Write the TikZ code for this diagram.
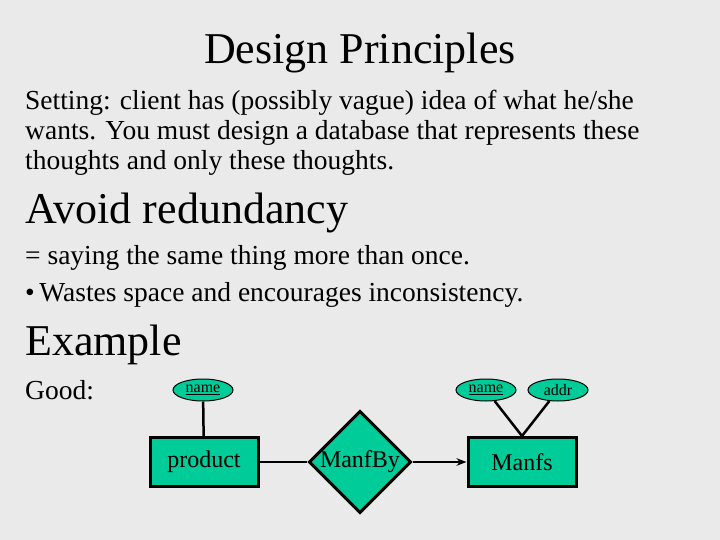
\documentclass[tikz,border=0pt]{standalone}
\usepackage{fontspec}
\setmainfont{Liberation Serif}
\usetikzlibrary{shapes.geometric, arrows.meta, positioning}
\definecolor{slidebg}{RGB}{234, 234, 234}
\definecolor{erfill}{RGB}{0, 204, 153}
\tikzset{
    body/.style={anchor=west, inner sep=0pt, font=\fontsize{27.5}{30}\selectfont},
    heading/.style={anchor=west, inner sep=0pt, font=\fontsize{44}{48}\selectfont},
    entity/.style={rectangle, draw=black, line width=3pt, fill=erfill, minimum width=108pt, minimum height=49pt, font=\fontsize{24}{26}\selectfont},
    relation/.style={diamond, draw=black, line width=3pt, fill=erfill, minimum width=96pt, minimum height=92pt, inner sep=0pt, font=\fontsize{24}{26}\selectfont},
    attrib/.style={ellipse, draw=black, line width=1pt, fill=erfill, minimum width=60pt, minimum height=22pt, inner sep=0pt, font=\fontsize{16}{18}\selectfont},
    link/.style={line width=2.5pt},
    arrow/.style={line width=2.5pt, -{Stealth[length=10pt]}}
}
\begin{document}
\begin{tikzpicture}[x=1pt, y=-1pt]
        \fill[slidebg] (0,0) rectangle (720,540);
        \useasboundingbox (0,0) rectangle (720,540);

        % Slide text
        \node[font=\fontsize{44}{48}\selectfont, inner sep=0pt] (title) at (360, 53) {Design Principles};
        \node[body] (set1) at (25, 103) {Setting: client has (possibly vague) idea of what he/she};
        \node[body] (set2) at (25, 133) {wants. You must design a database that represents these};
        \node[body] (set3) at (25, 163) {thoughts and only these thoughts.};
        \node[heading] (avoid) at (25, 213) {Avoid redundancy};
        \node[body] (say) at (25, 258) {= saying the same thing more than once.};
        \node[body] (waste) at (25, 295) {\textbullet\,Wastes space and encourages inconsistency.};
        \node[heading] (example) at (25, 345) {Example};
        \node[body] (good) at (25, 390) {Good:};

        % Entities and relationship
        \node[entity] (product) at (204, 462) {product};
        \node[relation] (manfby) at (360, 462) {ManfBy};
        \node[entity] (manfs) at (522, 462) {Manfs};

        % Attributes
        \node[attrib] (pname) at (203, 390) {\underline{name}};
        \node[attrib] (mname) at (486, 390) {\underline{name}};
        \node[attrib] (maddr) at (558, 390) {addr};

        % Connectors
        \draw[link] (pname) -- (product);
        \draw[link] (mname) -- (manfs.north);
        \draw[link] (maddr) -- (manfs.north);
        \draw[link] (product) -- (manfby);
        \draw[arrow] (manfby) -- (manfs);
    \end{tikzpicture}
\end{document}
